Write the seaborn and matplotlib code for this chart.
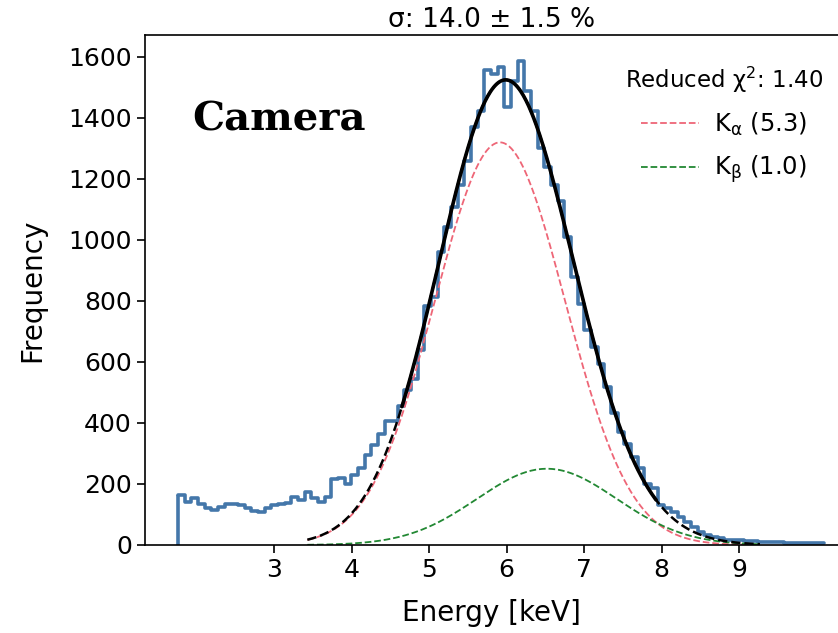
import numpy as np
import pandas as pd
import matplotlib
matplotlib.use("Agg")
import matplotlib.pyplot as plt
import seaborn as sns

# ---------------- data ----------------
bin_lo = 1.76          # keV, first histogram edge
bin_hi = 10.10         # keV, last histogram edge
counts = [
    164, 142, 153, 134, 120, 115, 125, 134, 136, 131,
    120, 112, 109, 120, 131, 136, 138, 158, 147, 174,
    153, 142, 158, 217, 221, 200, 229, 254, 295, 327,
    365, 407, 407, 455, 507, 545, 640, 785, 812, 960,
    1042, 1107, 1180, 1260, 1370, 1423, 1557, 1543, 1567, 1437,
    1520, 1587, 1489, 1423, 1303, 1240, 1180, 1129, 1009, 878,
    791, 704, 649, 595, 518, 433, 371, 330, 289, 252,
    200, 187, 131, 120, 109, 93, 75, 60, 44, 33,
    25, 22, 18, 16, 15, 12, 12, 11, 10, 9,
    9, 8, 8, 7, 7, 6, 6,
]
# Gaussian fit components
ka_amp, ka_mu, ka_sigma = 1320.0, 5.915, 0.84
kb_amp, kb_mu, kb_sigma = 250.0, 6.52, 0.90
curve_range = (3.43, 9.27)     # extent of dashed model curves
fit_range = (4.65, 7.93)       # extent of the solid fitted curve
x_ticks = [3, 4, 5, 6, 7, 8, 9]
y_ticks = [0, 200, 400, 600, 800, 1000, 1200, 1400, 1600]
title = "σ: 14.0 ± 1.5 %"
label_text = "Camera"
legend_title = "Reduced χ$^2$: 1.40"
ka_label = "K$_{\\mathregular{α}}$ (5.3)"
kb_label = "K$_{\\mathregular{β}}$ (1.0)"

BLUE = "#4477AA"
RED = "#EE6677"
GREEN = "#228833"

# ---------------- derived ----------------
edges = [float(v) for v in np.linspace(bin_lo, bin_hi, len(counts) + 1)]
centers = [0.5 * (edges[i] + edges[i + 1]) for i in range(len(counts))]
hist_df = pd.DataFrame({"energy": centers, "count": counts})


def gauss(x, a, mu, s):
    return a * np.exp(-(x - mu) ** 2 / (2 * s ** 2))


E = np.linspace(curve_range[0], curve_range[1], 400)
ka_y = gauss(E, ka_amp, ka_mu, ka_sigma)
kb_y = gauss(E, kb_amp, kb_mu, kb_sigma)
tot_y = ka_y + kb_y
Ef = np.linspace(fit_range[0], fit_range[1], 300)
totf_y = gauss(Ef, ka_amp, ka_mu, ka_sigma) + gauss(Ef, kb_amp, kb_mu, kb_sigma)

# ---------------- plot ----------------
sns.set_theme(style="ticks")
plt.rcParams["font.family"] = ["DejaVu Sans"]
for key in ["text.color", "axes.labelcolor", "xtick.color", "ytick.color",
            "axes.edgecolor"]:
    plt.rcParams[key] = "black"
plt.rcParams["axes.linewidth"] = 1.2

fig = plt.figure(figsize=(8.38, 6.33), dpi=100)
ax = fig.add_axes([145 / 838, 88 / 633, 693 / 838, 510 / 633])

sns.histplot(data=hist_df, x="energy", weights="count", bins=edges,
             element="step", fill=False, color=BLUE, linewidth=2.6, ax=ax)
# left closing edge of the step outline (from the first bin)
ax.vlines(edges[0], 0, counts[0], color=BLUE, linewidth=2.6)

sns.lineplot(x=E, y=ka_y, color=RED, linestyle="--", linewidth=1.3, ax=ax)
sns.lineplot(x=E, y=kb_y, color=GREEN, linestyle="--", linewidth=1.3, ax=ax)
sns.lineplot(x=E, y=tot_y, color="black", linestyle="--", linewidth=1.8, ax=ax)
sns.lineplot(x=Ef, y=totf_y, color="black", linewidth=2.6, ax=ax)

lines = ax.get_lines()
ka_line = lines[-4]
kb_line = lines[-3]
ax.legend(handles=[ka_line, kb_line], labels=[ka_label, kb_label],
          title=legend_title, title_fontsize=16.5, fontsize=17.5, frameon=False,
          loc="upper right", bbox_to_anchor=(1.01, 0.985), handlelength=2.4,
          handletextpad=0.6, labelspacing=0.65)

ax.set_xlim(1.335, 10.277)
ax.set_ylim(0, 1672)
ax.set_xticks(x_ticks)
ax.set_yticks(y_ticks)
ax.tick_params(axis="both", labelsize=18, length=6, width=1.2)
ax.set_xlabel("Energy [keV]", fontsize=20, labelpad=12)
ax.set_ylabel("Frequency", fontsize=20, labelpad=16)
ax.set_title(title, fontsize=19, pad=6)
ax.spines["right"].set_visible(False)

ax.text(0.068, 0.835, label_text, transform=ax.transAxes, fontsize=29,
        family="DejaVu Serif", fontweight="bold", va="center", ha="left")

fig.savefig("out.png", dpi=100)
